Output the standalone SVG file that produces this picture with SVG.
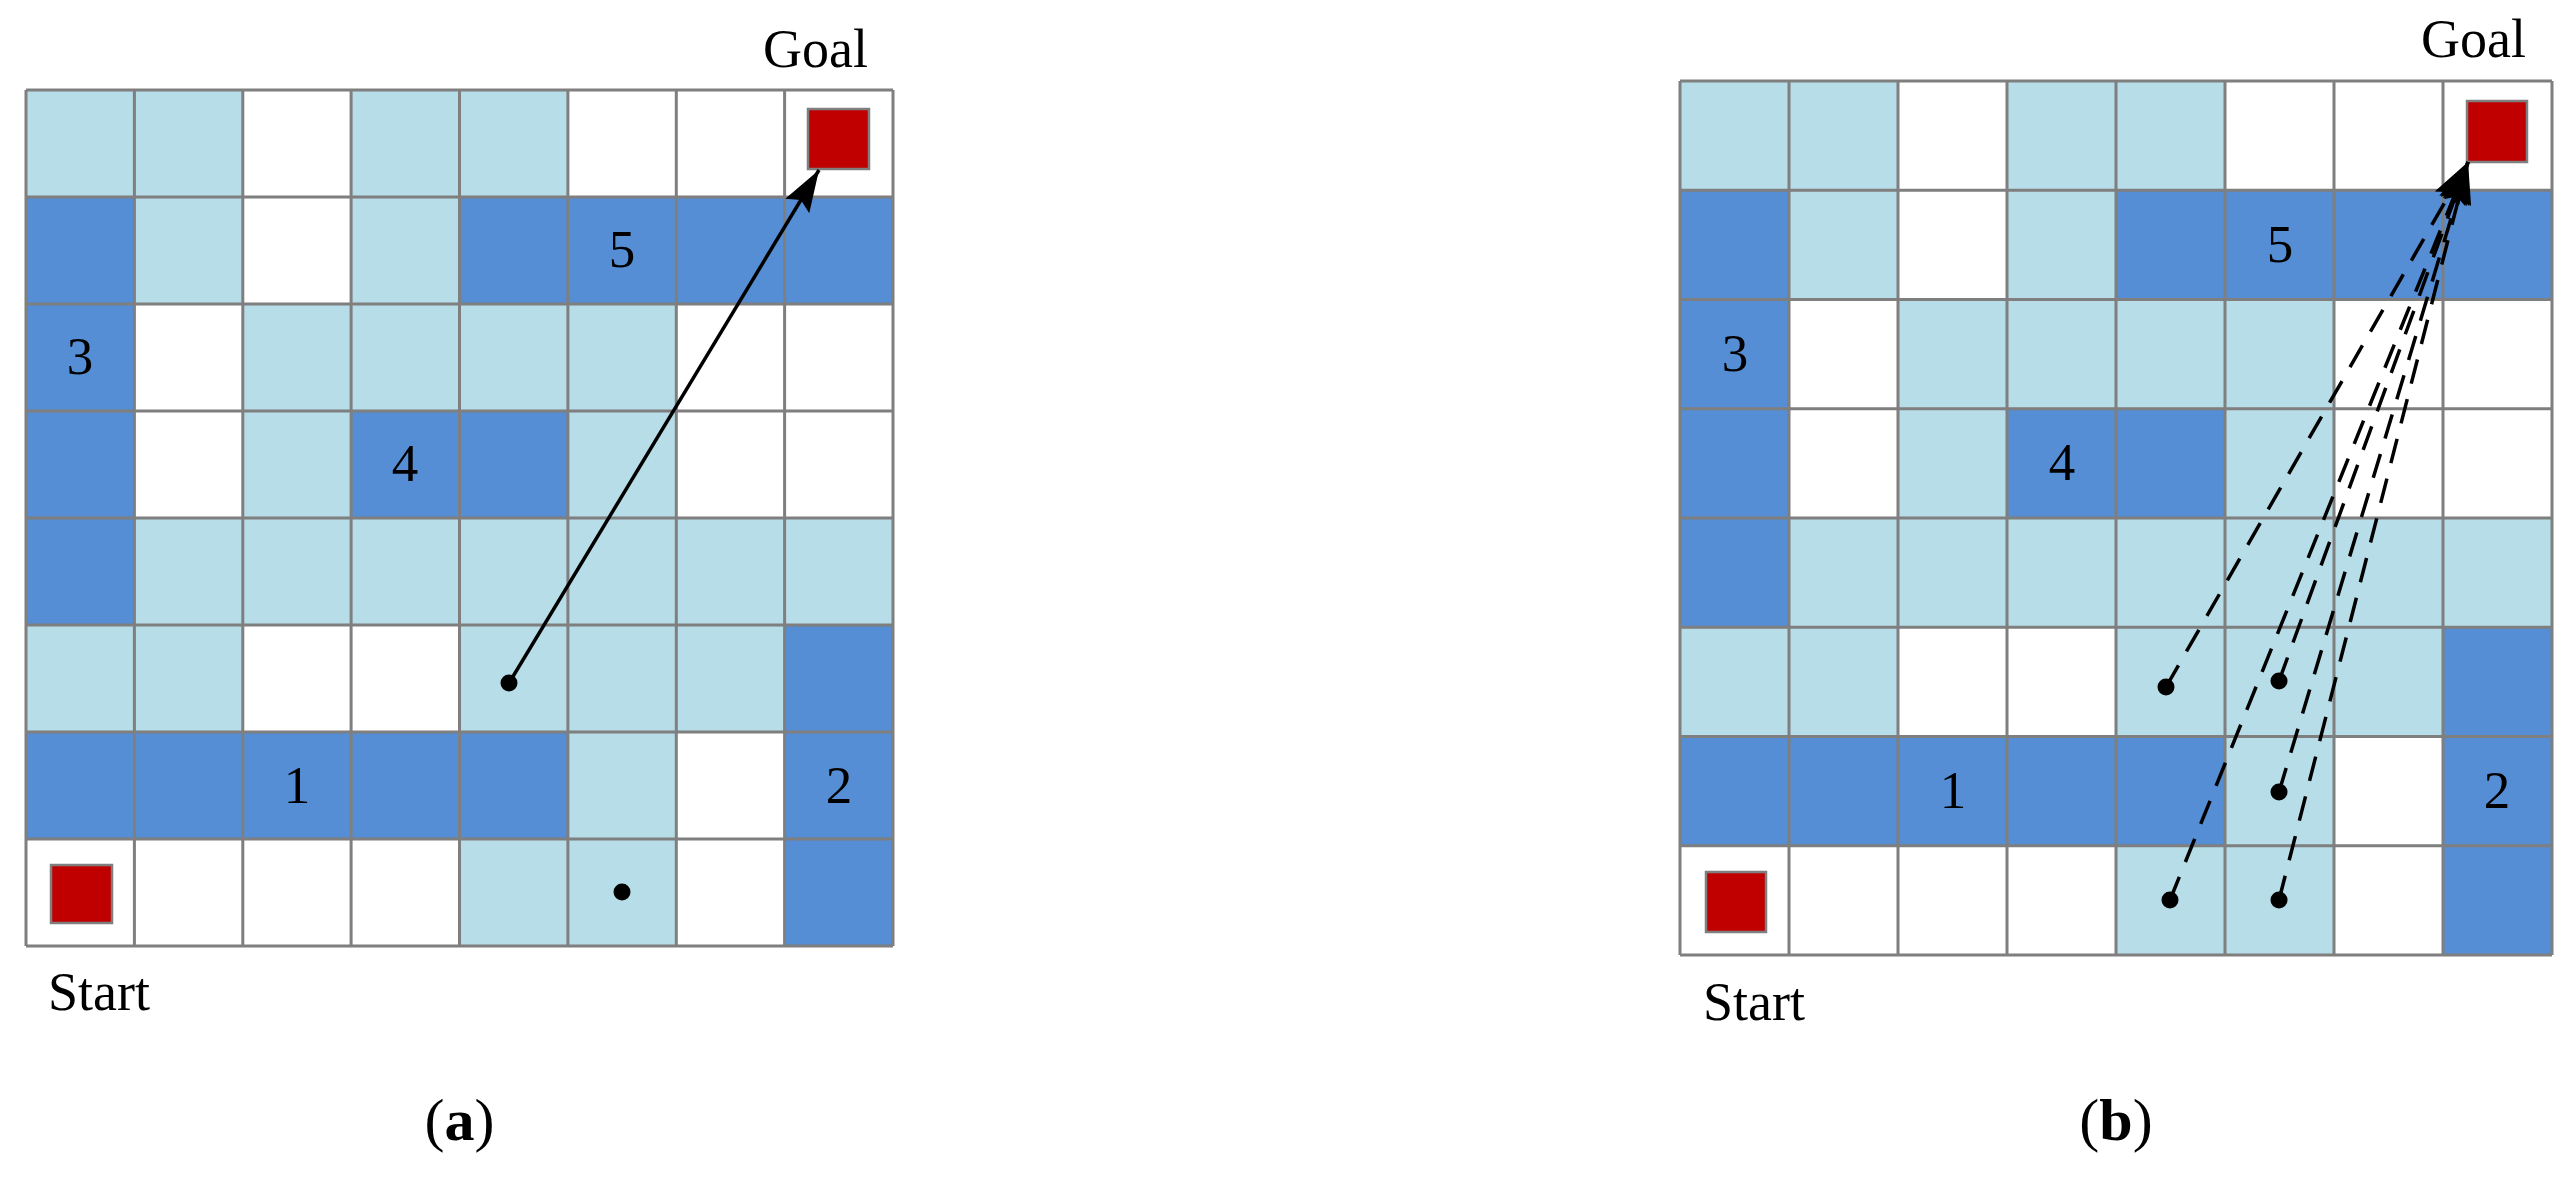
<svg xmlns="http://www.w3.org/2000/svg" width="2574" height="1177" viewBox="0 0 2574 1177">
<style>
.L{fill:#B7DDE8}
.D{fill:#558ED5}
.grid{fill:none;stroke:#7F7F7F;stroke-width:3}
.sq{fill:#C00000;stroke:#7F7F7F;stroke-width:2.5}
.num{font-family:"Liberation Serif","Times New Roman",serif;font-size:53px;fill:#000;text-anchor:middle}
.lbl{font-family:"Liberation Serif","Times New Roman",serif;font-size:54px;fill:#000}
.cap{font-family:"Liberation Serif","Times New Roman",serif;font-size:60px;fill:#000;text-anchor:middle}
.dot{fill:#000}
.solid{stroke:#000;stroke-width:3.5;fill:none}
.dash{stroke:#000;stroke-width:3.5;fill:none;stroke-dasharray:25 16}
</style>
<defs>
<marker id="arrow" markerUnits="userSpaceOnUse" viewBox="0 0 42 28" refX="42" refY="14" markerWidth="42" markerHeight="28" orient="auto">
<path d="M0,0 L42,14 L0,28 L7,14 Z" fill="#000"/>
</marker>
</defs>

<g id="grid-a">
<rect class="L" x="26" y="90" width="216.8" height="107"/>
<rect class="L" x="351.1" y="90" width="216.8" height="107"/>
<rect class="D" x="26" y="197" width="108.4" height="107"/>
<rect class="L" x="134.4" y="197" width="108.4" height="107"/>
<rect class="L" x="351.1" y="197" width="108.4" height="107"/>
<rect class="D" x="459.5" y="197" width="433.5" height="107"/>
<rect class="D" x="26" y="304" width="108.4" height="107"/>
<rect class="L" x="242.8" y="304" width="433.5" height="107"/>
<rect class="D" x="26" y="411" width="108.4" height="107"/>
<rect class="L" x="242.8" y="411" width="108.3" height="107"/>
<rect class="D" x="351.1" y="411" width="216.8" height="107"/>
<rect class="L" x="567.9" y="411" width="108.4" height="107"/>
<rect class="D" x="26" y="518" width="108.4" height="107"/>
<rect class="L" x="134.4" y="518" width="758.6" height="107"/>
<rect class="L" x="26" y="625" width="216.8" height="107"/>
<rect class="L" x="459.5" y="625" width="325.1" height="107"/>
<rect class="D" x="784.6" y="625" width="108.4" height="107"/>
<rect class="D" x="26" y="732" width="541.9" height="107"/>
<rect class="L" x="567.9" y="732" width="108.4" height="107"/>
<rect class="D" x="784.6" y="732" width="108.4" height="107"/>
<rect class="L" x="459.5" y="839" width="216.8" height="107"/>
<rect class="D" x="784.6" y="839" width="108.4" height="107"/>
<path class="grid" d="M26,90H893M26,197H893M26,304H893M26,411H893M26,518H893M26,625H893M26,732H893M26,839H893M26,946H893M26,90V946M134.4,90V946M242.8,90V946M351.1,90V946M459.5,90V946M567.9,90V946M676.3,90V946M784.6,90V946M893,90V946"/>
</g>
<g id="labels-a">
<text class="num" x="622" y="267">5</text>
<text class="num" x="80" y="374">3</text>
<text class="num" x="405" y="481">4</text>
<text class="num" x="297" y="803">1</text>
<text class="num" x="839" y="803">2</text>
</g>
<g id="goal-a"><rect class="sq" x="808" y="109" width="61" height="60"/><text class="lbl" x="763" y="67">Goal</text></g>
<g id="start-a"><rect class="sq" x="51" y="865" width="61" height="58"/><text class="lbl" x="48" y="1010">Start</text></g>
<g id="points-a">
<circle class="dot" cx="509" cy="683" r="8.5"/>
<circle class="dot" cx="622" cy="892" r="8.5"/>
</g>
<g id="connectors-a">
<line class="solid" x1="509" y1="683" x2="819" y2="170" marker-end="url(#arrow)"/>
</g>
<text id="caption-a" class="cap" x="459.5" y="1140">(<tspan font-weight="bold">a</tspan>)</text>

<g id="grid-b">
<rect class="L" x="1680" y="81" width="218" height="109.25"/>
<rect class="L" x="2007" y="81" width="218" height="109.25"/>
<rect class="D" x="1680" y="190.25" width="109" height="109.25"/>
<rect class="L" x="1789" y="190.25" width="109" height="109.25"/>
<rect class="L" x="2007" y="190.25" width="109" height="109.25"/>
<rect class="D" x="2116" y="190.25" width="436" height="109.25"/>
<rect class="D" x="1680" y="299.5" width="109" height="109.25"/>
<rect class="L" x="1898" y="299.5" width="436" height="109.25"/>
<rect class="D" x="1680" y="408.75" width="109" height="109.25"/>
<rect class="L" x="1898" y="408.75" width="109" height="109.25"/>
<rect class="D" x="2007" y="408.75" width="218" height="109.25"/>
<rect class="L" x="2225" y="408.75" width="109" height="109.25"/>
<rect class="D" x="1680" y="518" width="109" height="109.25"/>
<rect class="L" x="1789" y="518" width="763" height="109.25"/>
<rect class="L" x="1680" y="627.25" width="218" height="109.25"/>
<rect class="L" x="2116" y="627.25" width="327" height="109.25"/>
<rect class="D" x="2443" y="627.25" width="109" height="109.25"/>
<rect class="D" x="1680" y="736.5" width="545" height="109.25"/>
<rect class="L" x="2225" y="736.5" width="109" height="109.25"/>
<rect class="D" x="2443" y="736.5" width="109" height="109.25"/>
<rect class="L" x="2116" y="845.75" width="218" height="109.25"/>
<rect class="D" x="2443" y="845.75" width="109" height="109.25"/>
<path class="grid" d="M1680,81H2552M1680,190.25H2552M1680,299.5H2552M1680,408.75H2552M1680,518H2552M1680,627.25H2552M1680,736.5H2552M1680,845.75H2552M1680,955H2552M1680,81V955M1789,81V955M1898,81V955M2007,81V955M2116,81V955M2225,81V955M2334,81V955M2443,81V955M2552,81V955"/>
</g>
<g id="labels-b">
<text class="num" x="2280" y="262">5</text>
<text class="num" x="1735" y="371">3</text>
<text class="num" x="2062" y="480">4</text>
<text class="num" x="1953" y="808">1</text>
<text class="num" x="2497" y="808">2</text>
</g>
<g id="goal-b"><rect class="sq" x="2467" y="101" width="60" height="61"/><text class="lbl" x="2421" y="57">Goal</text></g>
<g id="start-b"><rect class="sq" x="1706" y="872" width="60" height="60"/><text class="lbl" x="1703" y="1020">Start</text></g>
<g id="points-b">
<circle class="dot" cx="2166" cy="687" r="8.5"/>
<circle class="dot" cx="2279" cy="681" r="8.5"/>
<circle class="dot" cx="2279" cy="792" r="8.5"/>
<circle class="dot" cx="2170" cy="900" r="8.5"/>
<circle class="dot" cx="2279" cy="900" r="8.5"/>
</g>
<g id="connectors-b">
<line class="dash" x1="2166" y1="687" x2="2468" y2="162" marker-end="url(#arrow)"/>
<line class="dash" x1="2279" y1="681" x2="2468" y2="162" marker-end="url(#arrow)"/>
<line class="dash" x1="2279" y1="792" x2="2468" y2="162" marker-end="url(#arrow)"/>
<line class="dash" x1="2170" y1="900" x2="2468" y2="162" marker-end="url(#arrow)"/>
<line class="dash" x1="2279" y1="900" x2="2468" y2="162" marker-end="url(#arrow)"/>
</g>
<text id="caption-b" class="cap" x="2116" y="1140">(<tspan font-weight="bold">b</tspan>)</text>
</svg>
